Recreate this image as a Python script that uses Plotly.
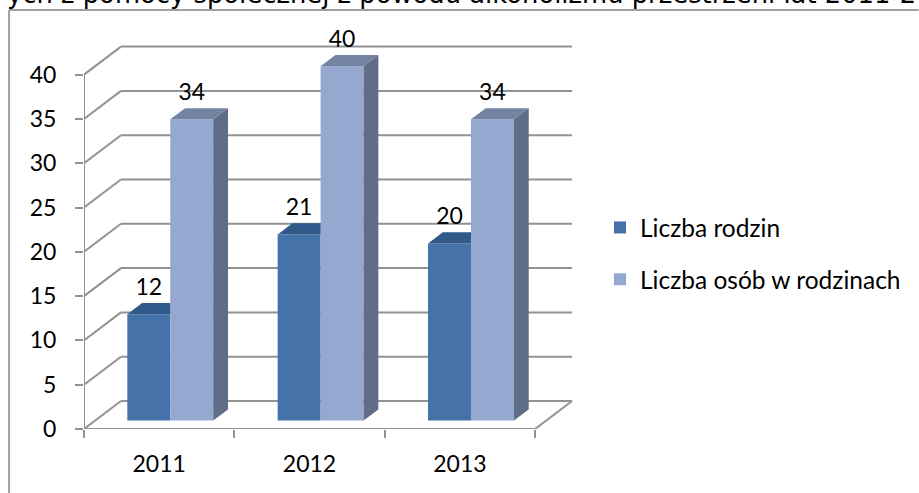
import plotly.graph_objects as go

categories = ["2011", "2012", "2013"]
rodziny = [12, 21, 20]
osoby = [34, 40, 34]
y_ticks = [0, 5, 10, 15, 20, 25, 30, 35, 40]
name_a = "Liczba rodzin"
name_b = "Liczba osób w rodzinach"
title_text = "ych z pomocy społecznej z powodu alkoholizmu przestrzeni lat 2011-2"

W, H = 919, 493
L, R, T, B = 83.5, 600.0, 20.0, 429.0      # plot area in pixels
PX_X = 150.5                               # pixels per category
PX_Y = 8.86                                # pixels per unit
DX, DY = 37 / PX_X, 28 / PX_Y              # depth of the 3D box in axis units
GAP = 1.5
BW = 1 / (2 + GAP)                         # one bar width in category units
F1, F2 = 0.3, 0.7                          # bars' front / back depth fractions
LAB = "Lato"
GRID = "#929292"

xr = [-0.5, -0.5 + (R - L) / PX_X]
yr = [0, (B - T) / PX_Y]
def px(x): return (x - L) / (R - L)
def py(y): return (B - y) / (B - T)

fig = go.Figure()
pos = [i for i in range(len(categories))]
base = F1 * DY
shift = F1 * DX

for name, vals, col, off in [(name_a, rodziny, "#4572A8", -BW / 2), (name_b, osoby, "#95A8D0", BW / 2)]:
    fig.add_trace(go.Bar(x=[p + off + shift for p in pos], y=vals, base=[base] * len(vals), width=BW,
                         name=name, marker=dict(color=col, line_width=0), hoverinfo="skip",
                         legendgroup=name))

def poly(xs, ys, col):
    fig.add_trace(go.Scatter(x=xs, y=ys, mode="lines", fill="toself", fillcolor=col,
                             line=dict(width=0), showlegend=False, hoverinfo="skip"))

d = (F2 - F1)
for p, a, b in zip(pos, rodziny, osoby):
    # top of the first (dark) bar, cut off by the second bar's front
    xl, xm, xr2 = p - BW + shift, p + shift, p + BW + shift
    ta = a + base
    poly([xl, xm, xm, xl + d * DX, xl], [ta, ta, ta + d * DY, ta + d * DY, ta], "#31598A")
    # top and side of the second (light) bar
    tb = b + base
    poly([xm, xr2, xr2 + d * DX, xm + d * DX, xm], [tb, tb, tb + d * DY, tb + d * DY, tb], "#7384A3")
    poly([xr2, xr2 + d * DX, xr2 + d * DX, xr2, xr2], [base, base + d * DY, tb + d * DY, tb, base], "#5F6D87")

LIFT = 0.3
lab_x, lab_y, lab_t = [], [], []
for p, a, b in zip(pos, rodziny, osoby):
    lab_x += [p - BW / 2 + shift, p + BW / 2 + shift]
    lab_y += [a + base + d * DY + LIFT, b + base + d * DY + LIFT]
    lab_t += [str(a), str(b)]
fig.add_trace(go.Scatter(x=lab_x, y=lab_y, text=lab_t, mode="text", textposition="top center",
                         textfont=dict(family=LAB, size=23, color="#000"), cliponaxis=False,
                         showlegend=False, hoverinfo="skip"))

shapes = []
def seg(x0, y0, x1, y1):
    shapes.append(dict(type="line", xref="x", yref="y", x0=x0, y0=y0, x1=x1, y1=y1,
                       layer="below", line=dict(color=GRID, width=2)))
x0, x1 = -0.5, 2.5
for v in y_ticks:
    seg(x0, v, x0 + DX, v + DY)
    seg(x0 + DX, v + DY, x1 + DX, v + DY)
seg(x0, 0, x0, y_ticks[-1])
seg(x0, 0, x1, 0)
seg(x1, 0, x1 + DX, DY)

# outer chart frame
for a, b, c, e in [(8.5, 10, 8.5, H), (8.5, 10, W, 10)]:
    shapes.append(dict(type="line", xref="paper", yref="paper", x0=px(a), y0=py(b), x1=px(c), y1=py(e),
                       line=dict(color="#A0A0A0", width=2)))

fig.update_layout(
    width=W, height=H, autosize=False, paper_bgcolor="#fff", plot_bgcolor="rgba(0,0,0,0)",
    margin=dict(l=L, r=W - R, t=T, b=H - B, autoexpand=False),
    barmode="overlay", shapes=shapes, hovermode=False,
    font=dict(family=LAB, size=23, color="#000"),
    xaxis=dict(range=xr, tickmode="array", tickvals=pos, ticktext=categories, ticks="", showgrid=False,
               zeroline=False, showline=False, ticklabelstandoff=19,
               minor=dict(tickmode="array", tickvals=[-0.5, 0.5, 1.5, 2.5], ticks="outside", ticklen=8,
                          tickwidth=2, tickcolor=GRID, showgrid=False)),
    yaxis=dict(range=yr, tickmode="array", tickvals=y_ticks, ticks="outside", ticklen=8, tickwidth=2,
               tickcolor=GRID, showgrid=False, zeroline=False, showline=False, ticklabelstandoff=14),
    legend=dict(x=px(600), y=py(205), xanchor="left", yanchor="top", tracegroupgap=17, itemwidth=30,
                font=dict(family=LAB, size=24.5, color="#000"), bgcolor="rgba(0,0,0,0)", traceorder="grouped"),
    annotations=[dict(text=title_text, xref="paper", yref="paper", x=px(5), y=py(10), xanchor="left",
                      yanchor="bottom", showarrow=False, borderpad=0,
                      font=dict(family="DejaVu Sans", size=25.8, color="#000"))],
)
fig.write_html("out.html", config=dict(displayModeBar=False), post_script="document.body.style.margin='0';")
